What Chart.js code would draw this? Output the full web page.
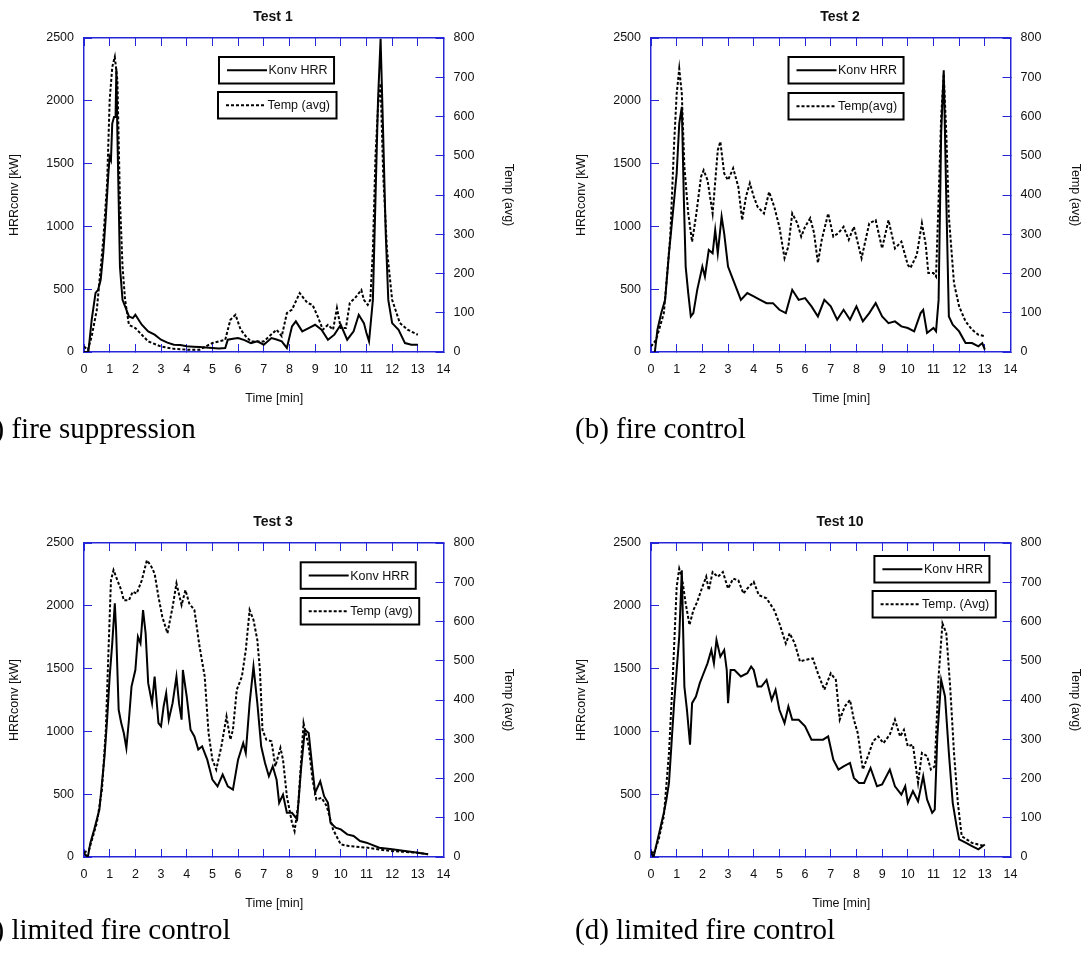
<!DOCTYPE html>
<html lang="en">
<head>
    <meta charset="UTF-8">
    <title>HRR and temperature, tests 1, 2, 3 and 10</title>
    <script src="https://cdn.jsdelivr.net/npm/chart.js"></script>
    <style>
        html, body { margin: 0; padding: 0; background: #fff; overflow: hidden; }
        #page { position: relative; width: 1085px; height: 956px; overflow: hidden; background: #fff; }
        #page canvas { position: absolute; }
        .caption {
            position: absolute;
            font-family: 'Liberation Serif', 'Times New Roman', serif;
            font-size: 29px;
            line-height: 29px;
            color: #000;
            white-space: nowrap;
        }
    </style>
</head>
<body>
<div id="page">
    <canvas id="c1" width="546" height="415" style="left:0;top:0"></canvas>
    <canvas id="c2" width="546" height="415" style="left:567px;top:0"></canvas>
    <canvas id="c3" width="546" height="415" style="left:0;top:505px"></canvas>
    <canvas id="c4" width="546" height="415" style="left:567px;top:505px"></canvas>
    <div class="caption" style="left:-28px;top:414px">(a) fire suppression</div>
    <div class="caption" style="left:575px;top:414px">(b) fire control</div>
    <div class="caption" style="left:-28px;top:915px">(c) limited fire control</div>
    <div class="caption" style="left:575px;top:915px">(d) limited fire control</div>
</div>

<script>
// ---- data (time in min, HRR in kW, temperature in deg C) ----

// Test 1
const t1Hrr = [0, 0.17, 0.3, 0.45, 0.55, 0.65, 0.75, 0.85, 0.95, 1.0, 1.05, 1.1, 1.17, 1.23, 1.26, 1.3, 1.35, 1.4, 1.5, 1.6, 1.75, 1.9, 2.0, 2.25, 2.5, 2.75, 3.0, 3.25, 3.5, 3.75, 4.0, 4.25, 4.5, 4.75, 5.0, 5.25, 5.5, 5.6, 5.8, 6.0, 6.25, 6.5, 6.75, 7.0, 7.3, 7.5, 7.7, 7.9, 8.1, 8.25, 8.5, 8.75, 9.0, 9.25, 9.5, 9.75, 10.0, 10.25, 10.5, 10.7, 10.9, 11.0, 11.1, 11.25, 11.35, 11.45, 11.55, 11.65, 11.75, 11.85, 12.0, 12.25, 12.5, 12.75, 13.0];
const hrr1 = [0, 0, 257, 470, 495, 575, 786, 1078, 1422, 1554, 1528, 1819, 1872, 1872, 2256, 1740, 1210, 680, 415, 363, 283, 270, 296, 217, 164, 138, 98, 75, 58, 55, 45, 42, 40, 36, 32, 28, 32, 98, 105, 111, 95, 71, 85, 58, 111, 100, 85, 32, 204, 244, 164, 191, 217, 177, 98, 138, 217, 98, 164, 296, 230, 151, 85, 415, 1210, 2005, 2494, 1740, 945, 415, 230, 177, 71, 58, 58];
const t1Temp = [0, 0.15, 0.3, 0.5, 0.75, 0.9, 1.0, 1.1, 1.2, 1.3, 1.4, 1.5, 1.6, 1.75, 2.0, 2.25, 2.5, 3.0, 3.5, 4.0, 4.5, 5.0, 5.5, 5.7, 5.9, 6.1, 6.3, 6.5, 7.0, 7.5, 7.7, 7.9, 8.1, 8.4, 8.7, 8.9, 9.1, 9.3, 9.5, 9.7, 9.85, 10.0, 10.2, 10.35, 10.55, 10.8, 10.9, 11.05, 11.15, 11.25, 11.35, 11.45, 11.55, 11.65, 11.8, 12.0, 12.3, 12.6, 13.0];
const temp1 = [14, 5, 40, 108, 286, 430, 642, 726, 752, 692, 387, 218, 133, 69, 61, 44, 27, 14, 8, 6, 6, 23, 31, 82, 95, 57, 40, 27, 27, 57, 40, 99, 108, 150, 125, 120, 91, 57, 69, 57, 112, 61, 61, 125, 137, 158, 133, 120, 133, 260, 497, 625, 684, 455, 260, 133, 74, 57, 44];

// Test 2
const t2Hrr = [0.15, 0.25, 0.4, 0.55, 0.7, 0.85, 1.0, 1.1, 1.2, 1.28, 1.35, 1.45, 1.55, 1.65, 1.8, 2.0, 2.1, 2.25, 2.4, 2.5, 2.6, 2.75, 2.85, 3.0, 3.15, 3.35, 3.5, 3.75, 4.0, 4.25, 4.5, 4.75, 5.0, 5.25, 5.5, 5.75, 6.0, 6.25, 6.5, 6.75, 7.0, 7.25, 7.5, 7.75, 8.0, 8.25, 8.5, 8.75, 9.0, 9.25, 9.5, 9.75, 10.0, 10.25, 10.5, 10.6, 10.75, 11.0, 11.1, 11.2, 11.3, 11.4, 11.5, 11.6, 11.75, 12.0, 12.25, 12.5, 12.75, 12.9, 13.0];
const hrr2 = [0, 177, 310, 415, 786, 1104, 1422, 1819, 1952, 1210, 680, 469, 283, 310, 495, 680, 600, 813, 786, 972, 786, 1078, 945, 680, 600, 495, 415, 469, 442, 415, 389, 389, 336, 310, 495, 415, 429, 363, 283, 415, 363, 257, 336, 257, 363, 244, 310, 389, 283, 230, 244, 204, 191, 164, 310, 336, 151, 191, 164, 415, 1740, 2243, 1210, 283, 217, 164, 71, 71, 45, 71, 19];
const t2Temp = [0, 0.2, 0.5, 0.75, 0.9, 1.0, 1.1, 1.2, 1.3, 1.45, 1.6, 1.75, 1.95, 2.05, 2.2, 2.4, 2.6, 2.7, 2.85, 3.0, 3.2, 3.4, 3.55, 3.7, 3.85, 4.0, 4.15, 4.4, 4.6, 4.8, 5.0, 5.2, 5.35, 5.5, 5.7, 5.85, 6.0, 6.2, 6.35, 6.5, 6.65, 6.9, 7.1, 7.3, 7.5, 7.7, 7.9, 8.2, 8.5, 8.75, 9.0, 9.25, 9.5, 9.75, 10.0, 10.1, 10.35, 10.55, 10.7, 10.8, 11.0, 11.1, 11.2, 11.3, 11.4, 11.5, 11.6, 11.8, 12.0, 12.25, 12.5, 12.75, 13.0];
const temp2 = [14, 31, 99, 294, 531, 658, 722, 658, 472, 353, 281, 345, 447, 463, 438, 353, 514, 536, 455, 438, 468, 421, 336, 396, 430, 396, 370, 353, 408, 370, 319, 239, 269, 353, 328, 294, 319, 341, 303, 227, 286, 353, 294, 303, 319, 286, 319, 239, 328, 336, 264, 336, 264, 281, 222, 214, 247, 328, 273, 201, 201, 192, 387, 599, 709, 557, 345, 175, 116, 78, 57, 44, 40];

// Test 3
const t3Hrr = [0, 0.15, 0.25, 0.4, 0.6, 0.8, 0.9, 1.0, 1.1, 1.2, 1.25, 1.35, 1.45, 1.55, 1.65, 1.75, 1.85, 2.0, 2.1, 2.2, 2.3, 2.4, 2.5, 2.65, 2.75, 2.9, 3.0, 3.1, 3.2, 3.3, 3.45, 3.6, 3.7, 3.8, 3.85, 4.0, 4.15, 4.3, 4.45, 4.6, 4.8, 5.0, 5.2, 5.4, 5.6, 5.8, 6.0, 6.2, 6.3, 6.45, 6.6, 6.75, 6.9, 7.05, 7.2, 7.35, 7.5, 7.6, 7.75, 7.9, 8.1, 8.3, 8.45, 8.6, 8.75, 8.9, 9.0, 9.2, 9.35, 9.5, 9.6, 9.8, 10.0, 10.25, 10.5, 10.75, 11.0, 11.5, 12.0, 12.5, 13.0, 13.4];
const hrr3 = [30, 0, 114, 220, 378, 802, 1093, 1437, 1701, 2019, 1807, 1172, 1066, 987, 868, 1093, 1357, 1489, 1754, 1701, 1966, 1780, 1384, 1225, 1437, 1066, 1040, 1198, 1304, 1093, 1225, 1437, 1225, 1093, 1489, 1278, 1013, 960, 855, 881, 775, 616, 563, 656, 563, 537, 775, 907, 828, 1225, 1516, 1225, 881, 749, 643, 722, 616, 431, 497, 352, 352, 299, 696, 1013, 987, 696, 511, 603, 484, 431, 272, 233, 220, 180, 167, 127, 114, 74, 61, 48, 34, 21];
const t3Temp = [0, 0.2, 0.5, 0.7, 0.85, 0.95, 1.05, 1.15, 1.3, 1.45, 1.55, 1.75, 1.9, 2.05, 2.25, 2.45, 2.6, 2.75, 2.9, 3.05, 3.25, 3.45, 3.6, 3.8, 3.95, 4.1, 4.3, 4.5, 4.7, 4.85, 5.0, 5.15, 5.35, 5.55, 5.7, 5.8, 5.95, 6.15, 6.3, 6.45, 6.6, 6.75, 6.85, 6.95, 7.1, 7.3, 7.45, 7.65, 7.75, 7.9, 8.1, 8.2, 8.35, 8.55, 8.75, 8.9, 9.05, 9.25, 9.45, 9.7, 10.0, 10.3, 11.0, 11.5, 12.0, 12.5, 13.0, 13.4];
const temp3 = [11, 19, 87, 172, 324, 519, 705, 731, 705, 680, 654, 654, 676, 671, 705, 756, 743, 722, 663, 612, 570, 637, 697, 642, 680, 646, 629, 536, 460, 316, 248, 223, 282, 358, 299, 324, 426, 460, 527, 629, 604, 553, 477, 324, 299, 295, 231, 278, 248, 155, 87, 66, 138, 341, 282, 197, 146, 151, 130, 70, 32, 28, 24, 19, 15, 13, 11, 7];

// Test 10
const t10Hrr = [0, 0.1, 0.2, 0.35, 0.5, 0.6, 0.7, 0.8, 0.9, 1.0, 1.1, 1.2, 1.3, 1.4, 1.52, 1.6, 1.75, 1.9, 2.0, 2.2, 2.35, 2.45, 2.55, 2.7, 2.85, 2.95, 3.0, 3.1, 3.25, 3.5, 3.75, 3.9, 4.0, 4.15, 4.3, 4.5, 4.7, 4.85, 5.0, 5.2, 5.35, 5.5, 5.75, 6.0, 6.25, 6.5, 6.7, 6.9, 7.1, 7.3, 7.5, 7.75, 7.9, 8.1, 8.3, 8.55, 8.8, 9.0, 9.3, 9.5, 9.75, 9.9, 10.0, 10.2, 10.4, 10.6, 10.75, 10.95, 11.05, 11.15, 11.3, 11.45, 11.6, 11.75, 11.9, 12.0, 12.25, 12.5, 12.75, 13.0];
const hrr10 = [40, 0, 87, 220, 352, 458, 590, 907, 1225, 1489, 1754, 2283, 1357, 1172, 894, 1225, 1278, 1384, 1437, 1542, 1648, 1542, 1728, 1595, 1648, 1489, 1225, 1489, 1489, 1437, 1463, 1516, 1489, 1357, 1357, 1410, 1251, 1331, 1172, 1066, 1198, 1093, 1093, 1040, 934, 934, 934, 960, 775, 696, 722, 749, 630, 590, 590, 709, 563, 577, 696, 563, 497, 563, 431, 524, 444, 643, 458, 352, 378, 960, 1410, 1278, 828, 431, 246, 140, 114, 87, 61, 100];
const t10Temp = [0, 0.1, 0.3, 0.5, 0.7, 0.85, 1.0, 1.1, 1.2, 1.35, 1.5, 1.65, 1.8, 2.0, 2.15, 2.25, 2.4, 2.6, 2.8, 3.0, 3.2, 3.4, 3.6, 3.75, 4.0, 4.2, 4.5, 4.8, 5.0, 5.25, 5.4, 5.6, 5.8, 6.0, 6.3, 6.5, 6.75, 7.0, 7.2, 7.35, 7.55, 7.75, 7.9, 8.05, 8.25, 8.45, 8.65, 8.85, 9.05, 9.3, 9.5, 9.7, 9.85, 10.0, 10.2, 10.4, 10.55, 10.75, 10.9, 11.05, 11.2, 11.35, 11.5, 11.65, 11.8, 11.95, 12.1, 12.5, 13.0];
const temp10 = [15, 7, 45, 104, 265, 460, 688, 735, 714, 646, 591, 629, 650, 688, 714, 680, 726, 714, 726, 684, 709, 705, 671, 684, 701, 667, 659, 629, 595, 544, 570, 544, 498, 502, 506, 468, 426, 468, 451, 350, 384, 400, 350, 316, 223, 257, 295, 307, 290, 312, 350, 307, 324, 282, 286, 189, 265, 257, 223, 231, 460, 595, 570, 434, 265, 138, 53, 36, 28];

// axis ticks
const timeTicks = { min: 0, max: 14, step: 1 };
const hrrTicks = { min: 0, max: 2500, step: 500 };
const tempTicks = { min: 0, max: 800, step: 100 };

// ---- drawing ----
Chart.defaults.font.family = "'Liberation Sans', Arial, sans-serif";
Chart.defaults.font.size = 12.5;
Chart.defaults.color = '#111';

const BLUE = '#2626d9';
const plain = v => String(v);   // no thousands separator

// legend drawn as two framed boxes inside the plot, like the original
const boxLegend = {
    id: 'boxLegend',
    afterDatasetsDraw(chart, args, opts) {
        const { ctx, chartArea } = chart;
        ctx.save();
        ctx.font = "12.5px 'Liberation Sans', Arial, sans-serif";
        chart.data.datasets.forEach((ds, i) => {
            const x = chartArea.left + opts.x[i];
            const y = chartArea.top + opts.y[i];
            const w = 56 + ctx.measureText(ds.label).width;
            const h = 26.5;
            ctx.fillStyle = '#fff';
            ctx.fillRect(x, y, w, h);
            ctx.setLineDash([]);
            ctx.lineWidth = 2;
            ctx.strokeStyle = '#000';
            ctx.strokeRect(x, y, w, h);
            ctx.setLineDash(ds.borderDash || []);
            ctx.beginPath();
            ctx.moveTo(x + 8, y + h / 2);
            ctx.lineTo(x + 48, y + h / 2);
            ctx.stroke();
            ctx.setLineDash([]);
            ctx.fillStyle = '#111';
            ctx.textBaseline = 'middle';
            ctx.fillText(ds.label, x + 49.5, y + h / 2 + 0.5);
        });
        ctx.restore();
    }
};

const pts = (ts, vs) => ts.map((t, i) => ({ x: t, y: vs[i] }));

function makeChart(id, cfg) {
    const frameGrid = { drawOnChartArea: false, drawTicks: true, tickLength: -8, color: BLUE, lineWidth: 1 };
    const frameBorder = { display: true, color: BLUE, width: 1.5 };

    return new Chart(document.getElementById(id), {
        type: 'line',
        data: {
            datasets: [
                {
                    label: cfg.hrrLabel,
                    data: pts(cfg.hrrT, cfg.hrr),
                    yAxisID: 'y',
                    borderColor: '#000',
                    borderWidth: 2,
                    pointRadius: 0,
                    tension: 0
                },
                {
                    label: cfg.tempLabel,
                    data: pts(cfg.tempT, cfg.temp),
                    yAxisID: 'y2',
                    borderColor: '#000',
                    borderWidth: 2,
                    borderDash: [3, 2],
                    pointRadius: 0,
                    tension: 0
                }
            ]
        },
        options: {
            responsive: false,
            animation: false,
            layout: { padding: 0 },
            plugins: {
                legend: { display: false },
                tooltip: { enabled: false },
                title: {
                    display: true,
                    text: cfg.title,
                    color: '#111',
                    font: { size: 14, weight: 'bold' },
                    padding: { top: 8.9, bottom: 12.3 }
                },
                boxLegend: { x: cfg.legendX, y: cfg.legendY }
            },
            scales: {
                x: {
                    type: 'linear',
                    position: 'bottom',
                    min: timeTicks.min,
                    max: timeTicks.max,
                    ticks: { stepSize: timeTicks.step, padding: 18.5, color: '#111', callback: plain },
                    grid: frameGrid,
                    border: frameBorder,
                    title: {
                        display: true,
                        // nbsp's nudge the centre right, as in the original
                        text: '\u00a0\u00a0\u00a0\u00a0\u00a0\u00a0Time [min]',
                        color: '#111',
                        padding: { top: 0, bottom: 9.2 }
                    },
                    afterFit: s => { s.height = 63; }
                },
                xTop: {
                    type: 'linear',
                    position: 'top',
                    min: timeTicks.min,
                    max: timeTicks.max,
                    ticks: { stepSize: timeTicks.step, display: false },
                    grid: frameGrid,
                    border: frameBorder,
                    afterFit: s => { s.height = 0; }
                },
                y: {
                    position: 'left',
                    min: hrrTicks.min,
                    max: hrrTicks.max,
                    ticks: { stepSize: hrrTicks.step, padding: 18, color: '#111', callback: plain },
                    grid: frameGrid,
                    border: frameBorder,
                    title: { display: true, text: 'HRRconv [kW]', color: '#111', padding: 7.5 },
                    afterFit: s => { s.width = 84; }
                },
                y2: {
                    position: 'right',
                    min: tempTicks.min,
                    max: tempTicks.max,
                    ticks: { stepSize: tempTicks.step, padding: 18, color: '#111', callback: plain },
                    grid: frameGrid,
                    border: frameBorder,
                    title: { display: true, text: 'Temp (avg)', color: '#111', padding: 30.5 },
                    afterFit: s => { s.width = 102.5; }
                }
            }
        },
        plugins: [boxLegend]
    });
}

makeChart('c1', {
    title: 'Test 1', hrrLabel: 'Konv HRR', tempLabel: 'Temp (avg)',
    hrrT: t1Hrr, hrr: hrr1, tempT: t1Temp, temp: temp1,
    legendX: [135, 134], legendY: [19, 54]
});
makeChart('c2', {
    title: 'Test 2', hrrLabel: 'Konv HRR', tempLabel: 'Temp(avg)',
    hrrT: t2Hrr, hrr: hrr2, tempT: t2Temp, temp: temp2,
    legendX: [137.5, 137.5], legendY: [19, 55]
});
makeChart('c3', {
    title: 'Test 3', hrrLabel: 'Konv HRR', tempLabel: 'Temp (avg)',
    hrrT: t3Hrr, hrr: hrr3, tempT: t3Temp, temp: temp3,
    legendX: [216.7, 216.7], legendY: [19.3, 55]
});
makeChart('c4', {
    title: 'Test 10', hrrLabel: 'Konv HRR', tempLabel: 'Temp. (Avg)',
    hrrT: t10Hrr, hrr: hrr10, tempT: t10Temp, temp: temp10,
    legendX: [223.4, 221.6], legendY: [13, 48]
});
</script>
</body>
</html>
